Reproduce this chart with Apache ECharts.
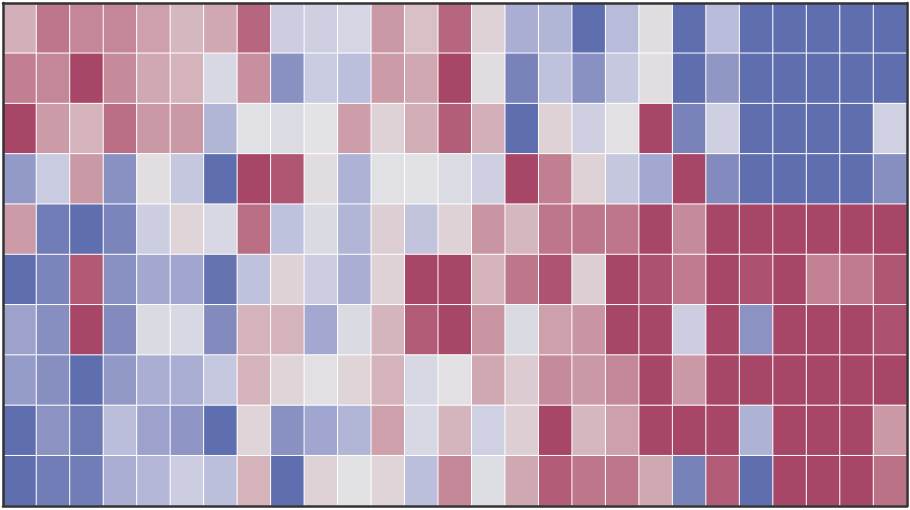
<!DOCTYPE html>
<html>
<head>
<meta charset="utf-8">
<script src="https://cdn.jsdelivr.net/npm/echarts@6/dist/echarts.min.js"></script>
<style>html,body{margin:0;padding:0;background:#fff;}#c{width:910px;height:510px;}</style>
</head>
<body>
<div id="c"></div>
<script>
const columns = Array.from({length: 27}, (_, i) => 'C' + (i + 1));
const rows = Array.from({length: 10}, (_, i) => 'R' + (i + 1));

const row0 = [0.35, 0.7, 0.6, 0.6, 0.45, 0.3, 0.4, 0.8, -0.2, -0.18, -0.12, 0.5, 0.25, 0.8, 0.12, -0.45, -0.4, -1, -0.35, 0.05, -1, -0.35, -1, -1, -1, -1, -1];
const row1 = [0.65, 0.6, 1, 0.58, 0.4, 0.33, -0.1, 0.55, -0.7, -0.22, -0.32, 0.48, 0.4, 1, 0.05, -0.82, -0.3, -0.7, -0.25, 0.04, -1, -0.65, -1, -1, -1, -1, -1];
const row2 = [1, 0.48, 0.33, 0.75, 0.5, 0.5, -0.4, -0.02, -0.07, 0, 0.47, 0.12, 0.36, 0.85, 0.35, -1, 0.12, -0.18, 0.02, 1, -0.82, -0.18, -1, -1, -1, -1, -0.17];
const row3 = [-0.62, -0.22, 0.5, -0.7, 0.04, -0.26, -1, 1, 0.9, 0.05, -0.42, -0.02, -0.01, -0.07, -0.18, 1, 0.65, 0.12, -0.26, -0.5, 1, -0.75, -1, -1, -1, -1, -0.72];
const row4 = [0.48, -0.87, -1, -0.8, -0.2, 0.1, -0.1, 0.75, -0.3, -0.08, -0.4, 0.15, -0.28, 0.12, 0.52, 0.3, 0.7, 0.7, 0.7, 1, 0.58, 1, 1, 1, 1, 1, 1];
const row5 = [-1, -0.8, 0.88, -0.7, -0.5, -0.52, -0.95, -0.3, 0.12, -0.2, -0.45, 0.12, 1, 1, 0.33, 0.7, 0.92, 0.15, 1, 0.93, 0.68, 1, 0.93, 1, 0.63, 0.68, 0.9];
const row6 = [-0.55, -0.72, 1, -0.75, -0.08, -0.1, -0.75, 0.33, 0.33, -0.5, -0.08, 0.32, 0.87, 1, 0.52, -0.08, 0.45, 0.52, 1, 1, -0.2, 1, -0.68, 1, 1, 1, 0.93];
const row7 = [-0.6, -0.72, -1, -0.63, -0.45, -0.45, -0.25, 0.33, 0.1, 0.02, 0.1, 0.33, -0.1, 0.02, 0.4, 0.17, 0.58, 0.5, 0.6, 1, 0.5, 1, 1, 1, 1, 1, 1];
const row8 = [-1, -0.68, -0.9, -0.33, -0.55, -0.66, -1, 0.1, -0.7, -0.52, -0.4, 0.45, -0.1, 0.32, -0.17, 0.15, 1, 0.3, 0.45, 1, 1, 1, -0.42, 1, 1, 1, 0.5];
const row9 = [-1, -0.87, -0.87, -0.45, -0.38, -0.2, -0.32, 0.33, -1, 0.12, -0.01, 0.1, -0.32, 0.6, -0.05, 0.4, 0.86, 0.7, 0.7, 0.4, -0.83, 0.87, -1, 1, 1, 1, 0.73];

const palette = ['#5e6eae', '#838bbe', '#a3a8d0', '#c6c8e0', '#e3e3e5', '#d8c0c6', '#cb98a5', '#ba6e83', '#a84668'];

const valueRows = [row0, row1, row2, row3, row4, row5, row6, row7, row8, row9];
const data = [];
valueRows.forEach((r, ri) => r.forEach((v, ci) => data.push([ci, ri, v])));

const chart = echarts.init(document.getElementById('c'), null, {renderer: 'canvas'});
const frameLine = {show: true, onZero: false, lineStyle: {color: '#333', width: 2.5}};
const hidden = {axisTick: {show: false}, axisLabel: {show: false}, splitLine: {show: false}};
chart.setOption({
  animation: false,
  backgroundColor: '#fff',
  grid: {left: 3, right: 3, top: 3, bottom: 4},
  xAxis: [
    Object.assign({type: 'category', data: columns, position: 'bottom', z: 10, axisLine: frameLine}, hidden),
    Object.assign({type: 'category', data: columns, position: 'top', z: 10, axisLine: frameLine}, hidden)
  ],
  yAxis: [
    Object.assign({type: 'category', data: rows, inverse: true, position: 'left', z: 10, axisLine: frameLine}, hidden),
    Object.assign({type: 'category', data: rows, inverse: true, position: 'right', z: 10, axisLine: frameLine}, hidden)
  ],
  visualMap: {
    show: false, type: 'continuous', min: -1, max: 1, dimension: 2,
    inRange: {color: palette}
  },
  series: [{
    type: 'heatmap',
    data: data,
    itemStyle: {borderColor: '#ffffff', borderWidth: 1},
    emphasis: {disabled: true}
  }]
});
</script>
</body>
</html>
